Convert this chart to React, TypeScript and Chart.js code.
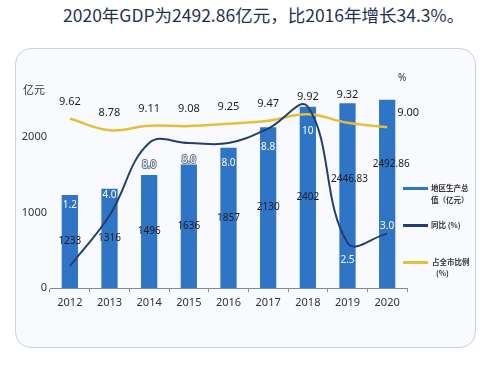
import React, { useEffect, useRef } from "react";
import { Chart, registerables } from "chart.js";

Chart.register(...registerables);

const years = ["2012", "2013", "2014", "2015", "2016", "2017", "2018", "2019", "2020"];
const gdpValues = [1233, 1316, 1496, 1636, 1857, 2130, 2402, 2446.83, 2492.86];
const growthValues = [1.2, 4.0, 8.0, 8.0, 8.0, 8.8, 10, 2.5, 3.0];
const shareValues = [9.62, 8.78, 9.11, 9.08, 9.25, 9.47, 9.92, 9.32, 9.0];
const leftTicks = [0, 1000, 2000];

const FONT = '"Noto Sans", "Noto Sans CJK SC", sans-serif';
const CJK = '"Noto Sans CJK SC", "Noto Sans", sans-serif';
const BAR_COLOR = "#2f74c5";
const NAVY = "#243f6b";
const GOLD = "#e5be3a";

const fmtGrowth = (v: number) => (v >= 10 ? v.toFixed(0) : v.toFixed(1));

const labelPlugin = {
  id: "valueLabels",
  afterDatasetsDraw(chart: any, _args: any, opts: any) {
    const ctx = chart.ctx as CanvasRenderingContext2D;
    const barMeta = chart.getDatasetMeta(0);
    const gMeta = chart.getDatasetMeta(1);
    const sMeta = chart.getDatasetMeta(2);
    const growthDy: number[] = opts.growthDy || [];
    const gdpDy: number[] = opts.gdpDy || [];
    const gdpDx: number[] = opts.gdpDx || [];
    ctx.save();
    ctx.textBaseline = "middle";

    // GDP labels, centred in bars
    ctx.font = `10px ${FONT}`;
    ctx.fillStyle = "#1b1b1b";
    ctx.textAlign = "center";
    barMeta.data.forEach((bar: any, i: number) => {
      const p = bar.getProps(["x", "y", "base"], true);
      ctx.fillText(String(gdpValues[i]), p.x + (gdpDx[i] || 0), (p.y + p.base) / 2 + (gdpDy[i] || 0));
    });

    // growth labels
    ctx.font = `10px ${FONT}`;
    ctx.lineJoin = "round";
    gMeta.data.forEach((pt: any, i: number) => {
      const bar = barMeta.data[i].getProps(["x", "y"], true);
      const y = pt.y + (growthDy[i] ?? 20);
      const txt = fmtGrowth(growthValues[i]);
      if (y < bar.y + 3) {
        ctx.strokeStyle = "#66758d";
        ctx.lineWidth = 2;
        ctx.strokeText(txt, bar.x, y);
      }
      ctx.fillStyle = "#ffffff";
      ctx.fillText(txt, bar.x, y);
    });

    // share labels
    ctx.font = `11px ${FONT}`;
    ctx.fillStyle = "#1e1e1e";
    const n = sMeta.data.length;
    sMeta.data.forEach((pt: any, i: number) => {
      const bar = barMeta.data[i].getProps(["x", "y", "width"], true);
      const txt = shareValues[i].toFixed(2);
      if (i === n - 1) {
        ctx.textAlign = "left";
        ctx.fillText(txt, bar.x + bar.width / 2 + 2, pt.y - 14);
      } else {
        ctx.textAlign = "center";
        ctx.fillText(txt, pt.x, Math.min(pt.y - 17, bar.y - 8));
      }
    });
    ctx.restore();
  },
};

export default function App() {
  const ref = useRef<HTMLCanvasElement | null>(null);

  useEffect(() => {
    if (!ref.current) return;
    const chart = new Chart(ref.current, {
      type: "bar",
      data: {
        labels: years,
        datasets: [
          {
            type: "bar",
            label: "地区生产总值（亿元）",
            data: gdpValues,
            backgroundColor: BAR_COLOR,
            yAxisID: "y",
            order: 3,
            barPercentage: 1,
            categoryPercentage: 0.41,
          },
          {
            type: "line",
            label: "同比（%）",
            data: growthValues,
            borderColor: NAVY,
            borderWidth: 2,
            pointRadius: 0,
            tension: 0.4,
            yAxisID: "y1",
            order: 1,
          },
          {
            type: "line",
            label: "占全市比例（%）",
            data: shareValues,
            borderColor: GOLD,
            borderWidth: 2.5,
            pointRadius: 0,
            tension: 0.4,
            yAxisID: "y2",
            order: 2,
          },
        ] as any,
      },
      options: {
        animation: false,
        responsive: false,
        maintainAspectRatio: false,
        devicePixelRatio: 1,
        layout: { padding: { left: 16, right: 84, top: 61.5, bottom: 58 } },
        plugins: {
          legend: { display: false },
          tooltip: { enabled: false },
          valueLabels: {
            growthDy: [-61, -20, 22, 17, 20, 19, 24, 17, -7],
            gdpDy: [0, 0, 0, 0, 0, 0, 0, -16, -30],
            gdpDx: [0, 0, 0, 0, 0, 0, 0, 2, 4],
          },
        } as any,
        scales: {
          x: {
            grid: { drawOnChartArea: false, drawTicks: true, tickLength: 4, color: "#8a8a8a", offset: true },
            border: { display: true, color: "#8a8a8a" },
            ticks: { font: { size: 11, family: FONT }, color: "#333", padding: 4, maxRotation: 0 },
            afterFit: (s: any) => {
              s.height = 24;
            },
          },
          y: {
            position: "left",
            min: 0,
            max: 3000,
            grid: { display: false, drawTicks: false },
            border: { display: false },
            ticks: {
              padding: 3,
              font: { size: 11, family: FONT },
              color: "#333",
              callback: (v: any) => String(v),
            },
            afterBuildTicks: (s: any) => {
              s.ticks = leftTicks.map((v) => ({ value: v }));
            },
            afterFit: (s: any) => {
              s.width = 34;
            },
          },
          y1: { display: false, min: 0, max: 12.5 },
          y2: { display: false, min: -2.5, max: 13.7 },
        } as any,
      },
      plugins: [labelPlugin],
    });
    return () => chart.destroy();
  }, []);

  const legendText: React.CSSProperties = {
    position: "absolute",
    fontFamily: CJK,
    fontSize: "7.5px",
    fontWeight: 700,
    color: "#333",
    lineHeight: "12px",
    whiteSpace: "nowrap",
  };
  const swatch = (top: number, color: string): React.CSSProperties => ({
    position: "absolute",
    left: 403,
    top,
    width: 25,
    height: 3,
    background: color,
  });

  return (
    <div style={{ position: "absolute", left: 0, top: 0, width: 491, height: 370, background: "#fff", overflow: "hidden" }}>
      <div
        style={{
          position: "absolute",
          left: 63,
          top: 4,
          fontFamily: CJK,
          fontSize: "17.5px",
          lineHeight: "22px",
          color: "#1f3250",
          whiteSpace: "nowrap",
        }}
      >
        2020年GDP为2492.86亿元，比2016年增长34.3%。
      </div>
      <div
        style={{
          position: "absolute",
          left: 15,
          top: 48,
          width: 459,
          height: 298,
          border: "1.5px solid #c9d1dd",
          borderRadius: 16,
          background: "#f8fafd",
        }}
      />
      <canvas ref={ref} width={491} height={370} style={{ position: "absolute", left: 0, top: 0, display: "block" }} />
      <div style={{ position: "absolute", left: 23, top: 82, fontFamily: CJK, fontSize: "11px", lineHeight: "14px", color: "#333" }}>
        亿元
      </div>
      <div style={{ position: "absolute", left: 398, top: 70, fontFamily: FONT, fontSize: "10px", lineHeight: "14px", color: "#333" }}>
        %
      </div>
      <div style={swatch(186.5, BAR_COLOR)} />
      <div style={{ ...legendText, left: 431, top: 182 }}>
        地区生产总
        <br />
        值（亿元）
      </div>
      <div style={swatch(223.5, NAVY)} />
      <div style={{ ...legendText, left: 431, top: 219 }}>同比 (%)</div>
      <div style={swatch(260.5, GOLD)} />
      <div style={{ ...legendText, left: 432, top: 256, lineHeight: "11px" }}>
        占全市比例
        <br />
        <span style={{ paddingLeft: 4 }}>(%)</span>
      </div>
    </div>
  );
}
